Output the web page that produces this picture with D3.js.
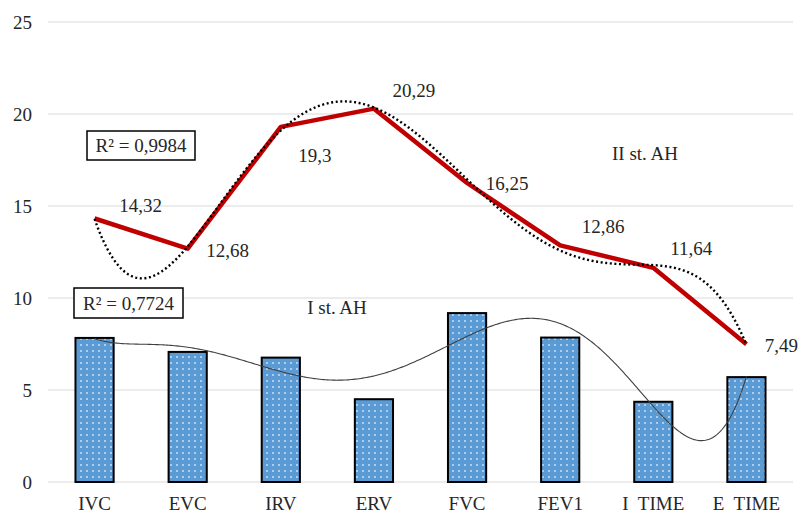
<!DOCTYPE html>
<html>
<head>
<meta charset="utf-8">
<script src="https://cdn.jsdelivr.net/npm/d3@7"></script>
<style>
  body { margin: 0; background: #fff; }
  text { font-family: "Liberation Serif", "Times New Roman", serif; fill: #262626; }
</style>
</head>
<body>
<div id="chart"></div>
<script>
// data
var categories = ["IVC", "EVC", "IRV", "ERV", "FVC", "FEV1", "I  TIME", "E  TIME"];
var stage1 = [7.83, 7.07, 6.76, 4.5, 9.18, 7.85, 4.36, 5.7];           // I st. AH (bars)
var stage2 = [14.32, 12.68, 19.3, 20.29, 16.25, 12.86, 11.64, 7.49];  // II st. AH (line)
var stage2Labels = ["14,32", "12,68", "19,3", "20,29", "16,25", "12,86", "11,64", "7,49"];
var yTicks = [0, 5, 10, 15, 20, 25];
var r2Line = "R\u00b2 = 0,9984";
var r2Bars = "R\u00b2 = 0,7724";

var width = 806, height = 513;

var svg = d3.select("#chart").append("svg")
  .attr("width", width)
  .attr("height", height);

var x = d3.scaleBand().domain(categories).range([48, 793])
  .paddingInner(0.59).paddingOuter(0.295);
var y = d3.scaleLinear().domain([0, 25]).range([482, 22]);

function cx(c) { return x(c) + x.bandwidth() / 2; }

// dotted pattern for the bars
var defs = svg.append("defs");
var pat = defs.append("pattern")
  .attr("id", "dots")
  .attr("patternUnits", "userSpaceOnUse")
  .attr("width", 6).attr("height", 6);
pat.append("rect").attr("width", 6).attr("height", 6).attr("fill", "#5b9bd5");
pat.append("circle").attr("cx", 3).attr("cy", 3).attr("r", 0.9)
  .attr("fill", "#ffffff").attr("opacity", 0.75);

// gridlines
svg.append("g").selectAll("line")
  .data(yTicks)
  .enter().append("line")
  .attr("x1", 48).attr("x2", 793)
  .attr("y1", function(d) { return y(d); })
  .attr("y2", function(d) { return y(d); })
  .attr("stroke", "#d9d9d9")
  .attr("stroke-width", 1);

// axes
var yAxis = svg.append("g")
  .attr("transform", "translate(48,0)")
  .call(d3.axisLeft(y).tickValues(yTicks).tickSize(0).tickPadding(16));
yAxis.select(".domain").remove();
yAxis.selectAll("text").style("font-size", "19px").attr("fill", "#262626")
  .style("font-family", "'Liberation Serif', serif");

var xAxis = svg.append("g")
  .attr("transform", "translate(0,482)")
  .call(d3.axisBottom(x).tickSize(0).tickPadding(15));
xAxis.select(".domain").remove();
xAxis.selectAll("text").style("font-size", "19px").attr("fill", "#262626")
  .style("font-family", "'Liberation Serif', serif")
  .style("white-space", "pre");

// bars
svg.append("g").selectAll("rect")
  .data(stage1)
  .enter().append("rect")
  .attr("x", function(d, i) { return x(categories[i]); })
  .attr("y", function(d) { return y(d); })
  .attr("width", x.bandwidth())
  .attr("height", function(d) { return y(0) - y(d); })
  .attr("fill", "url(#dots)")
  .attr("stroke", "#000")
  .attr("stroke-width", 2);

// polynomial least squares (like an Excel trendline)
function polyfit(ys, order) {
  var n = ys.length, mid = (n - 1) / 2;
  var m = order + 1, A = [], b = [];
  for (var r = 0; r < m; r++) { A.push(new Array(m).fill(0)); b.push(0); }
  ys.forEach(function(v, i) {
    var t = (i - mid) / mid;
    for (var r = 0; r < m; r++) {
      for (var c = 0; c < m; c++) A[r][c] += Math.pow(t, r + c);
      b[r] += v * Math.pow(t, r);
    }
  });
  for (var k = 0; k < m; k++) {
    var p = k;
    for (var r = k + 1; r < m; r++) if (Math.abs(A[r][k]) > Math.abs(A[p][k])) p = r;
    var tmp = A[k]; A[k] = A[p]; A[p] = tmp;
    var tb = b[k]; b[k] = b[p]; b[p] = tb;
    for (var r = k + 1; r < m; r++) {
      var f = A[r][k] / A[k][k];
      for (var c = k; c < m; c++) A[r][c] -= f * A[k][c];
      b[r] -= f * b[k];
    }
  }
  var coef = new Array(m).fill(0);
  for (var k = m - 1; k >= 0; k--) {
    var s = b[k];
    for (var c = k + 1; c < m; c++) s -= A[k][c] * coef[c];
    coef[k] = s / A[k][k];
  }
  return function(i) {
    var t = (i - mid) / mid, s = 0;
    for (var k = 0; k < m; k++) s += coef[k] * Math.pow(t, k);
    return s;
  };
}

var xi = d3.scaleLinear().domain([0, categories.length - 1])
  .range([cx(categories[0]), cx(categories[categories.length - 1])]);
var samples = d3.range(0, categories.length - 1 + 1e-9, 0.02);

var fitBars = polyfit(stage1, 6);
var fitLine = polyfit(stage2, 5);

var curve = d3.line()
  .x(function(d) { return xi(d[0]); })
  .y(function(d) { return y(d[1]); });

svg.append("path")
  .datum(samples.map(function(t) { return [t, fitBars(t)]; }))
  .attr("d", curve)
  .attr("fill", "none")
  .attr("stroke", "#404040")
  .attr("stroke-width", 1.1);

// line series
var line = d3.line()
  .x(function(d, i) { return cx(categories[i]); })
  .y(function(d) { return y(d); });

svg.append("path")
  .datum(stage2)
  .attr("d", line)
  .attr("fill", "none")
  .attr("stroke", "#c00000")
  .attr("stroke-width", 4.5)
  .attr("stroke-linejoin", "round");

svg.append("path")
  .datum(samples.map(function(t) { return [t, fitLine(t)]; }))
  .attr("d", curve)
  .attr("fill", "none")
  .attr("stroke", "#000")
  .attr("stroke-width", 2.4)
  .attr("stroke-dasharray", "2,2.6");

// data labels (offsets from each point)
var labelOffsets = [[46, -7], [40, 8], [34, 35], [40, -12], [40, 7], [43, -12], [38, -13], [35, 8]];
svg.append("g").selectAll("text")
  .data(stage2)
  .enter().append("text")
  .attr("x", function(d, i) { return cx(categories[i]) + labelOffsets[i][0]; })
  .attr("y", function(d, i) { return y(d) + labelOffsets[i][1]; })
  .attr("text-anchor", "middle")
  .style("font-size", "19px")
  .text(function(d, i) { return stage2Labels[i]; });

// series names
svg.append("text").attr("x", 645).attr("y", 160).attr("text-anchor", "middle")
  .style("font-size", "19px").text("II st. AH");
svg.append("text").attr("x", 337).attr("y", 314).attr("text-anchor", "middle")
  .style("font-size", "19px").text("I st. AH");

// R² boxes
function r2Box(x0, y0, w, h, label) {
  svg.append("rect").attr("x", x0).attr("y", y0).attr("width", w).attr("height", h)
    .attr("fill", "#fff").attr("stroke", "#000").attr("stroke-width", 1.5);
  svg.append("text").attr("x", x0 + w / 2).attr("y", y0 + h / 2)
    .attr("dy", "0.35em").attr("text-anchor", "middle")
    .style("font-size", "19px").attr("fill", "#000").text(label);
}
r2Box(87, 131, 108, 29, r2Line);
r2Box(74, 288, 109, 30, r2Bars);
</script>
</body>
</html>
